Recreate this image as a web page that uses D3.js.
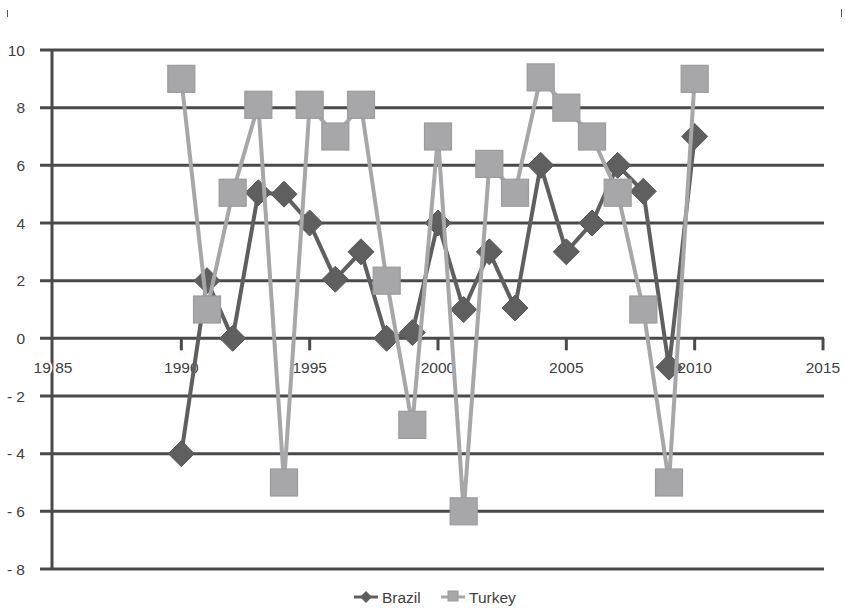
<!DOCTYPE html>
<html><head><meta charset="utf-8">
<script src="https://cdn.jsdelivr.net/npm/d3@7"></script>
<style>body{margin:0;background:#fff}svg{display:block}text{font-family:"Liberation Sans",Arial,sans-serif;fill:#404040}</style>
</head><body><svg id="c" width="845" height="608"></svg>
<script>
const years = [1990,1991,1992,1993,1994,1995,1996,1997,1998,1999,2000,2001,2002,2003,2004,2005,2006,2007,2008,2009,2010];
const brazil = [-4,2,0,5.05,5,4,2.05,3,0,0.2,4,1,3,1.05,6,3,4,6,5.1,-1,7];
const turkey = [9,1,5.05,8.1,-5,8.1,7,8.1,2,-3,7,-6,6.05,5.05,9.05,8,7,5.05,1,-5,9];
const xTicks = [1985,1990,1995,2000,2005,2010,2015];
const xTickLabels = ["19 85","1990","1995","2000","2005","2010","2015"];
const yTicks = [10,8,6,4,2,0,-2,-4,-6,-8];
const yTickLabels = ["10","8","6","4","2","0","- 2","- 4","- 6","- 8"];

const svg = d3.select("#c");
const x = d3.scaleLinear().domain([1985,2015]).range([53,823]);
const y = d3.scaleLinear().domain([-8,10]).range([569,50]);
const grid = "#4a4a4a";
const fs = 15.5;

// corner marks
svg.append("line").attr("x1",7.5).attr("x2",7.5).attr("y1",10).attr("y2",17).attr("stroke","#555").attr("stroke-width",1);
svg.append("line").attr("x1",841.5).attr("x2",841.5).attr("y1",9).attr("y2",17).attr("stroke","#555").attr("stroke-width",1);

// gridlines
svg.append("g").selectAll("line").data(yTicks).join("line")
  .attr("x1",40).attr("x2",824).attr("y1",d=>y(d)).attr("y2",d=>y(d))
  .attr("stroke",grid).attr("stroke-width",3);
// y labels
svg.append("g").selectAll("text").data(yTicks).join("text")
  .attr("x",25).attr("y",d=>y(d)+5.5).attr("text-anchor","end").attr("font-size",fs)
  .text((d,i)=>yTickLabels[i]);
// y axis line
svg.append("line").attr("x1",x(1985)-1).attr("x2",x(1985)-1).attr("y1",y(10)).attr("y2",y(-8))
  .attr("stroke",grid).attr("stroke-width",3);
// x ticks
svg.append("g").selectAll("line").data(xTicks.slice(1)).join("line")
  .attr("x1",d=>x(d)).attr("x2",d=>x(d)).attr("y1",y(0)).attr("y2",y(0)+12)
  .attr("stroke",grid).attr("stroke-width",3);
// x labels (under the series)
svg.append("g").selectAll("text").data(xTicks).join("text")
  .attr("x",d=>x(d)).attr("y",y(0)+35).attr("text-anchor","middle").attr("font-size",fs)
  .attr("stroke",(d,i)=>i===0?"#fff":"none").attr("stroke-width",4).attr("paint-order","stroke")
  .text((d,i)=>xTickLabels[i]);

const line = d3.line().x((d,i)=>x(years[i])).y(d=>y(d));
const cB = "#5f5f5f", cT = "#a7a7a9";
// Brazil
svg.append("path").datum(brazil).attr("d",line).attr("fill","none").attr("stroke",cB).attr("stroke-width",4).attr("stroke-linejoin","round");
svg.append("g").selectAll("path").data(brazil).join("path")
  .attr("d","M0,-13L13,0L0,13L-13,0Z").attr("transform",(d,i)=>`translate(${x(years[i])},${y(d)})`)
  .attr("fill",cB).attr("stroke","#595959").attr("stroke-width",1);
// Turkey
svg.append("path").datum(turkey).attr("d",line).attr("fill","none").attr("stroke",cT).attr("stroke-width",4).attr("stroke-linejoin","round");
svg.append("g").selectAll("rect").data(turkey).join("rect")
  .attr("x",(d,i)=>x(years[i])-13.5).attr("y",d=>y(d)-13.5).attr("width",27).attr("height",27)
  .attr("fill",cT).attr("stroke","#9b9b9d").attr("stroke-width",1.2);

// legend
const lg = svg.append("g");
lg.append("line").attr("x1",354).attr("x2",378).attr("y1",597).attr("y2",597).attr("stroke",cB).attr("stroke-width",3);
lg.append("path").attr("d","M0,-6L6,0L0,6L-6,0Z").attr("transform","translate(366,597)").attr("fill",cB);
lg.append("text").attr("x",382).attr("y",602.5).attr("font-size",fs).text("Brazil");
lg.append("line").attr("x1",441).attr("x2",465).attr("y1",597).attr("y2",597).attr("stroke",cT).attr("stroke-width",3);
lg.append("rect").attr("x",448).attr("y",591).attr("width",10).attr("height",10).attr("fill",cT).attr("stroke","#9b9b9d");
lg.append("text").attr("x",469).attr("y",602.5).attr("font-size",fs).text("Turkey");
</script></body></html>
